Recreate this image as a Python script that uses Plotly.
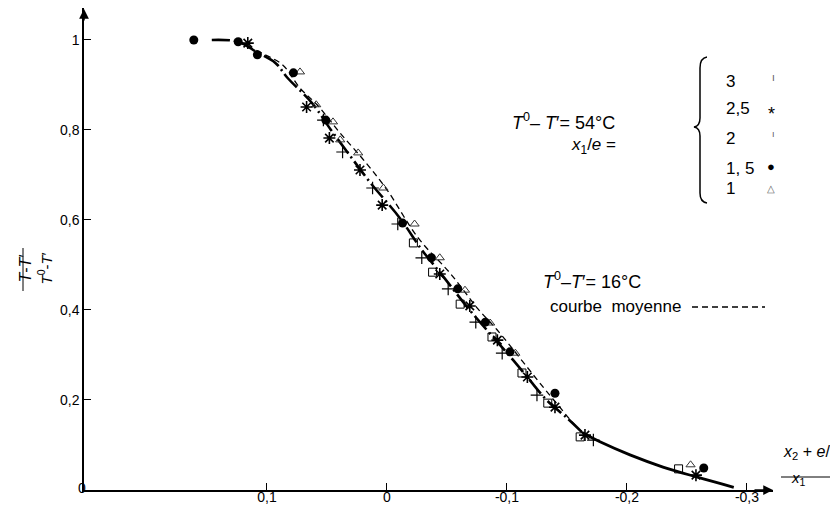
import plotly.graph_objects as go

# ---------------- data ----------------
# thick curve (T0-T' = 54 C)
curve_a_x = [0.146, 0.124, 0.108, 0.093, 0.083, 0.0625, 0.0467, 0.0325, 0.0142, -0.0108, -0.0292,
             -0.0458, -0.0667, -0.0775, -0.105, -0.119, -0.133, -0.15, -0.163]
curve_a_y = [1.0, 0.996, 0.972, 0.949, 0.916, 0.860, 0.80, 0.749, 0.684, 0.604, 0.533,
             0.478, 0.407, 0.373, 0.289, 0.244, 0.20, 0.16, 0.127]
# common tail
tail_x = [-0.163, -0.1775, -0.2025, -0.23, -0.258, -0.289]
tail_y = [0.127, 0.107, 0.078, 0.051, 0.029, 0.006]
# dashed mean curve (T0-T' = 16 C, courbe moyenne)
curve_b_x = [0.124, 0.103, 0.0867, 0.0725, 0.0583, 0.039, 0.0175, 0.0, -0.026, -0.0525,
             -0.076, -0.0917, -0.13, -0.144, -0.155, -0.165]
curve_b_y = [0.996, 0.969, 0.944, 0.893, 0.856, 0.793, 0.727, 0.667, 0.56, 0.482,
             0.402, 0.356, 0.229, 0.184, 0.149, 0.122]

# x1/e = 1,5 (filled circles)
s15_x = [0.161, 0.124, 0.108, 0.078, 0.051, -0.013, -0.037, -0.059, -0.082, -0.1025, -0.14, -0.264]
s15_y = [1.0, 0.996, 0.967, 0.927, 0.822, 0.593, 0.516, 0.447, 0.373, 0.307, 0.215, 0.049]
# x1/e = 2,5 (asterisks)
s25_x = [0.116, 0.067, 0.048, 0.0225, 0.004, -0.044, -0.069, -0.092, -0.117, -0.14, -0.165, -0.2575]
s25_y = [0.993, 0.851, 0.782, 0.711, 0.633, 0.480, 0.409, 0.333, 0.251, 0.184, 0.122, 0.033]
# x1/e = 2 (+)
s2_x = [0.053, 0.037, 0.012, -0.009, -0.029, -0.051, -0.074, -0.096, -0.125, -0.172]
s2_y = [0.822, 0.751, 0.671, 0.591, 0.516, 0.447, 0.373, 0.304, 0.211, 0.111]
# x1/e = 3 (open squares)
s3_x = [-0.022, -0.038, -0.061, -0.0875, -0.1125, -0.134, -0.161, -0.243]
s3_y = [0.549, 0.484, 0.413, 0.340, 0.260, 0.193, 0.118, 0.047]
# x1/e = 1 (open triangles)
s1_x = [0.0725, 0.059, 0.045, 0.039, 0.024, 0.003, -0.023, -0.044, -0.065, -0.086, -0.107, -0.253]
s1_y = [0.929, 0.856, 0.818, 0.778, 0.749, 0.671, 0.591, 0.516, 0.444, 0.371, 0.304, 0.056]

x_tickvals = [0.1, 0.0, -0.1, -0.2, -0.3]
x_ticktext = ["0,1", "0", "-0,1", "-0,2", "-0,3"]
y_tickvals = [0.2, 0.4, 0.6, 0.8, 1.0]
y_ticktext = ["0,2", "0,4", "0,6", "0,8", "1"]

legend_labels = ["3", "2,5", "2", "1, 5", "1"]
legend_glyphs = ["ı", "*", "ı", "●", "△"]

# ---------------- figure ----------------
# the page body has an 8 px margin, so the figure is 8 px smaller than the window
OFF = 8
W, H = 838 - OFF, 506 - OFF
ML, MR, MT, MB = 84 - OFF, 65, 0, 16
PW, PH = W - ML - MR, H - MT - MB
FONT = "Liberation Sans, Arial, sans-serif"


def fx(px):  # window pixel -> paper
    return (px - OFF - ML) / PW


def fy(py):  # window pixel -> paper
    return (H - MB - (py - OFF)) / PH


fig = go.Figure()

fig.add_trace(go.Scatter(x=curve_b_x, y=curve_b_y, mode="lines", line_shape="spline",
                         line=dict(color="black", width=1.3, dash="6px,4px"), showlegend=False))
fig.add_trace(go.Scatter(x=curve_a_x, y=curve_a_y, mode="lines", line_shape="spline",
                         line=dict(color="black", width=2.6, dash="18px,4px,2px,4px"), showlegend=False))
fig.add_trace(go.Scatter(x=tail_x, y=tail_y, mode="lines", line_shape="spline",
                         line=dict(color="black", width=2.8), showlegend=False))

mk = dict(mode="markers", showlegend=False)
fig.add_trace(go.Scatter(x=s3_x, y=s3_y, marker=dict(symbol="square-open", size=8, color="black",
                                                      line=dict(width=1)), **mk))
fig.add_trace(go.Scatter(x=s1_x, y=s1_y, marker=dict(symbol="triangle-up-open", size=8, color="#333",
                                                      line=dict(width=1)), **mk))
fig.add_trace(go.Scatter(x=s2_x, y=s2_y, marker=dict(symbol="cross-thin-open", size=9, color="black",
                                                      line=dict(width=1.2, color="black")), **mk))
fig.add_trace(go.Scatter(x=s25_x, y=s25_y, marker=dict(symbol="asterisk-open", size=10, color="black",
                                                        line=dict(width=1.6, color="black")), **mk))
fig.add_trace(go.Scatter(x=s15_x, y=s15_y, marker=dict(symbol="circle", size=9, color="black"), **mk))

ann = []
# axis arrows
ann.append(dict(x=0, y=1, xref="paper", yref="paper", ax=0, ay=22, showarrow=True,
                arrowhead=2, arrowsize=1.3, arrowwidth=1.5, arrowcolor="black", text=" "))
ann.append(dict(x=1, y=0, xref="paper", yref="paper", ax=-22, ay=0, showarrow=True,
                arrowhead=2, arrowsize=1.3, arrowwidth=1.5, arrowcolor="black", text=" "))
# origin label
ann.append(dict(x=fx(76), y=fy(498), xref="paper", yref="paper", text="0", showarrow=False,
                font=dict(size=14)))
# y axis title (rotated fraction)
ann.append(dict(x=fx(14), y=fy(269), xref="paper", yref="paper", text="<i>T</i>-<i>T</i>′",
                textangle=-90, showarrow=False, font=dict(size=16)))
ann.append(dict(x=fx(33), y=fy(269), xref="paper", yref="paper",
                text="<i>T</i><sup>0</sup>-<i>T</i>′", textangle=-90, showarrow=False,
                font=dict(size=15)))
# x axis title (fraction)
ann.append(dict(x=fx(781), y=fy(464), xref="paper", yref="paper", xanchor="left",
                text="<i>x</i><sub>2</sub> + <i>e</i>/2", showarrow=False, font=dict(size=16)))
ann.append(dict(x=fx(808), y=fy(490), xref="paper", yref="paper",
                text="<i>x</i><sub>1</sub>", showarrow=False, font=dict(size=15)))
# 54 C block
ann.append(dict(x=fx(617), y=fy(108), xref="paper", yref="paper",
                text="<i>T</i><sup>0</sup>– <i>T</i>′= 54°C", showarrow=False, font=dict(size=18)))
ann.append(dict(x=fx(618), y=fy(133), xref="paper", yref="paper",
                text="<i>x</i><sub>1</sub>/<i>e</i> =", showarrow=False, font=dict(size=17)))
legend_y = [70, 97, 127, 157, 188]
glyph_sizes = [10, 18, 9, 13, 10]
glyph_cols = ["#555", "black", "#555", "black", "#666"]
for lab, gl, py, gs, gc in zip(legend_labels, legend_glyphs, legend_y, glyph_sizes, glyph_cols):
    ann.append(dict(x=fx(724), y=fy(py), xref="paper", yref="paper", xanchor="left",
                    text=lab, showarrow=False, font=dict(size=17)))
    ann.append(dict(x=fx(777), y=fy(py + (5 if gl == "*" else 0)), xref="paper", yref="paper",
                    text=gl, showarrow=False, font=dict(size=gs, color=gc)))
# 16 C block
ann.append(dict(x=fx(541), y=fy(280), xref="paper", yref="paper", xanchor="left",
                text="<i>T</i><sup>0</sup>–<i>T</i>′= 16°C", showarrow=False, font=dict(size=18)))
ann.append(dict(x=fx(548), y=fy(306), xref="paper", yref="paper", xanchor="left",
                text="courbe  moyenne", showarrow=False, font=dict(size=17)))

shapes = []
# dashed legend sample
shapes.append(dict(type="line", xref="paper", yref="paper", x0=fx(692), x1=fx(765),
                   y0=fy(307), y1=fy(307), line=dict(color="black", width=1.3, dash="6px,4px")))
# x-title fraction bar
shapes.append(dict(type="line", xref="paper", yref="paper", x0=fx(781), x1=fx(840),
                   y0=fy(477), y1=fy(477), line=dict(color="black", width=1)))
# y-title fraction bar
shapes.append(dict(type="line", xref="paper", yref="paper", x0=fx(23), x1=fx(23),
                   y0=fy(248), y1=fy(291), line=dict(color="black", width=1)))
# brace
bx = 700
path = (f"M {fx(bx+7)},{fy(57)} Q {fx(bx)},{fy(58)} {fx(bx)},{fy(68)} "
        f"L {fx(bx)},{fy(118)} Q {fx(bx)},{fy(126)} {fx(bx-6)},{fy(127)} "
        f"Q {fx(bx)},{fy(128)} {fx(bx)},{fy(136)} "
        f"L {fx(bx)},{fy(193)} Q {fx(bx)},{fy(202)} {fx(bx+7)},{fy(203)}")
shapes.append(dict(type="path", xref="paper", yref="paper", path=path,
                   line=dict(color="black", width=1.5)))

fig.update_layout(
    width=W, height=H,
    margin=dict(l=ML, r=MR, t=MT, b=MB, autoexpand=False),
    paper_bgcolor="white", plot_bgcolor="white",
    font=dict(family=FONT, color="black", size=14),
    annotations=ann, shapes=shapes,
    xaxis=dict(range=[0.2525, -0.3217], showgrid=False, zeroline=False, showline=True,
               linecolor="black", linewidth=1.5, ticks="inside", ticklen=7, tickcolor="black",
               tickvals=x_tickvals, ticktext=x_ticktext, tickfont=dict(size=14), automargin=False,
               ticklabelstandoff=-7),
    yaxis=dict(range=[0, 1.071], showgrid=False, zeroline=False, showline=True,
               linecolor="black", linewidth=1.5, ticks="inside", ticklen=7, tickcolor="black",
               tickvals=y_tickvals, ticktext=y_ticktext, tickfont=dict(size=14), automargin=False),
    showlegend=False,
)

fig.write_html("out.html")
